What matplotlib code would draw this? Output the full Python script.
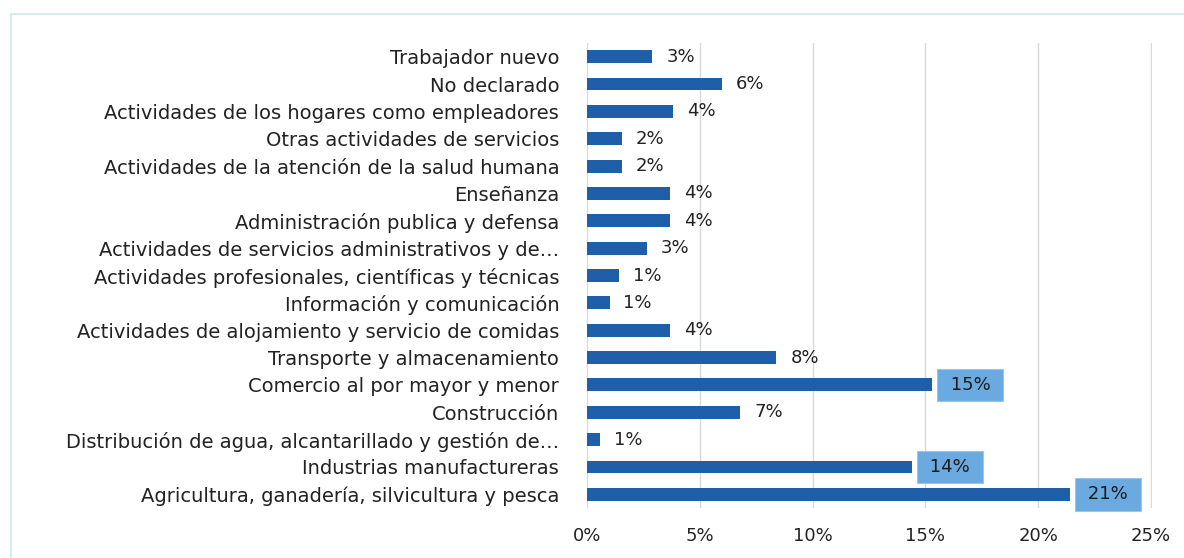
import matplotlib.pyplot as plt
import matplotlib.patches as mpatches
import numpy as np

plt.rcParams['font.family'] = ['DejaVu Sans']

# --- Data (bottom to top) ---
categories = [
    "Agricultura, ganadería, silvicultura y pesca",
    "Industrias manufactureras",
    "Distribución de agua, alcantarillado y gestión de…",
    "Construcción",
    "Comercio al por mayor y menor",
    "Transporte y almacenamiento",
    "Actividades de alojamiento y servicio de comidas",
    "Información y comunicación",
    "Actividades profesionales, científicas y técnicas",
    "Actividades de servicios administrativos y de…",
    "Administración publica y defensa",
    "Enseñanza",
    "Actividades de la atención de la salud humana",
    "Otras actividades de servicios",
    "Actividades de los hogares como empleadores",
    "No declarado",
    "Trabajador nuevo",
]
values = [21.4, 14.4, 0.56, 6.8, 15.3, 8.4, 3.7, 1.0, 1.43, 2.65,
          3.68, 3.68, 1.54, 1.54, 3.8, 5.97, 2.9]
value_labels = ["21%", "14%", "1%", "7%", "15%", "8%", "4%", "1%", "1%", "3%",
                "4%", "4%", "2%", "2%", "4%", "6%", "3%"]
boxed = ["Agricultura, ganadería, silvicultura y pesca",
         "Industrias manufactureras",
         "Comercio al por mayor y menor"]

bar_color = "#1f5ea8"
box_color = "#6aaae0"

fig = plt.figure(figsize=(11.84, 5.58), dpi=100)
ax = fig.add_axes([0.4958, 0.0896, 0.4772, 0.8333])

y = np.arange(len(categories))
ax.barh(y, values, height=0.47, color=bar_color, zorder=3)

for yi, v, lab, cat in zip(y, values, value_labels, categories):
    if cat in boxed:
        ax.annotate(f" {lab} ", (v, yi), xytext=(9, 0), textcoords="offset points",
                    ha="left", va="center", fontsize=13, color="#1a1a1a", zorder=4,
                    bbox=dict(boxstyle="square,pad=0.4", fc=box_color, ec="#9cc5ea", lw=0.8))
    else:
        ax.annotate(lab, (v, yi), xytext=(10, 0), textcoords="offset points",
                    ha="left", va="center", fontsize=13, color="#222222", zorder=4)

ax.set_xlim(0, 25.05)
ax.set_ylim(-0.5, len(categories) - 0.5)
ax.set_xticks([0, 5, 10, 15, 20, 25])
ax.set_xticklabels(["0%", "5%", "10%", "15%", "20%", "25%"])
ax.set_yticks(y)
ax.set_yticklabels(categories)
ax.tick_params(axis="both", length=0, colors="#222222")
ax.tick_params(axis="x", pad=14, labelsize=13)
ax.tick_params(axis="y", pad=20, labelsize=14)

for s in ax.spines.values():
    s.set_visible(False)
ax.set_axisbelow(True)
ax.grid(axis="x", color="#d9d9d9", lw=1)

# light frame around the chart (only left/top visible in the crop)
fig.patches.append(mpatches.Rectangle((11 / 1184, -0.1), 1.2, 1 - 14 / 558 + 0.1,
                                      transform=fig.transFigure, fill=False,
                                      ec="#d6ecec", lw=1.5))

fig.savefig("out.png", dpi=100)
